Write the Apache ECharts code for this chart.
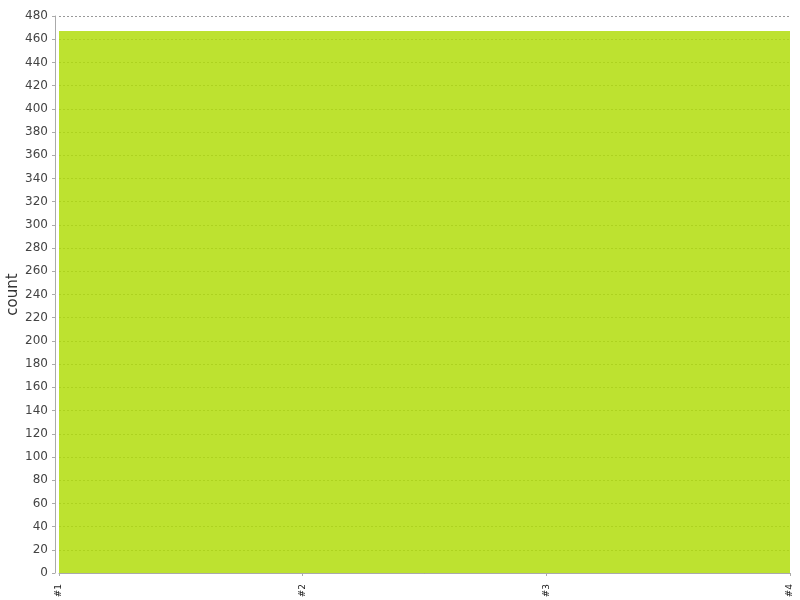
<!DOCTYPE html>
<html>
<head>
<meta charset="utf-8">
<script src="https://cdn.jsdelivr.net/npm/echarts@6/dist/echarts.min.js"></script>
<style>
html,body{margin:0;padding:0;background:#fff;}
#chart{width:800px;height:600px;}
</style>
</head>
<body>
<div id="chart"></div>
<script>
var categories = ['#1', '#2', '#3', '#4'];
var counts = [467, 467, 467, 467];
var yMin = 0, yMax = 480, yStep = 20;

var chart = echarts.init(document.getElementById('chart'));
chart.setOption({
  animation: false,
  backgroundColor: '#ffffff',
  grid: { left: 59, right: 10, top: 16, bottom: 27, containLabel: false, outerBoundsMode: 'none' },
  xAxis: {
    type: 'category',
    data: categories,
    boundaryGap: false,
    offset: 5,
    axisLine: { lineStyle: { color: '#aaaaaa', width: 1 } },
    axisTick: { show: true, length: 3, alignWithLabel: true, lineStyle: { color: '#aaaaaa' } },
    axisLabel: {
      rotate: 90,
      margin: 6,
      fontSize: 9,
      fontFamily: 'DejaVu Sans',
      color: '#222222',
      interval: 0
    },
    splitLine: { show: false }
  },
  yAxis: {
    type: 'value',
    min: yMin,
    max: yMax,
    interval: yStep,
    offset: 4,
    name: 'count',
    nameLocation: 'middle',
    nameGap: 34,
    nameMoveOverlap: false,
    nameTextStyle: { fontSize: 15, fontFamily: 'DejaVu Sans', color: '#333333' },
    axisLine: { show: true, lineStyle: { color: '#aaaaaa', width: 1 } },
    axisTick: { show: true, length: 3, lineStyle: { color: '#aaaaaa' } },
    axisLabel: { fontSize: 12, fontFamily: 'DejaVu Sans', color: '#444444', margin: 7 },
    splitLine: { show: true, lineStyle: { color: '#999999', type: [2, 2], width: 1 } }
  },
  series: [{
    type: 'line',
    data: counts,
    symbol: 'none',
    lineStyle: { width: 0 },
    areaStyle: { color: 'rgb(176,220,8)', opacity: 0.84 },
    z: 2
  }]
});
</script>
</body>
</html>
